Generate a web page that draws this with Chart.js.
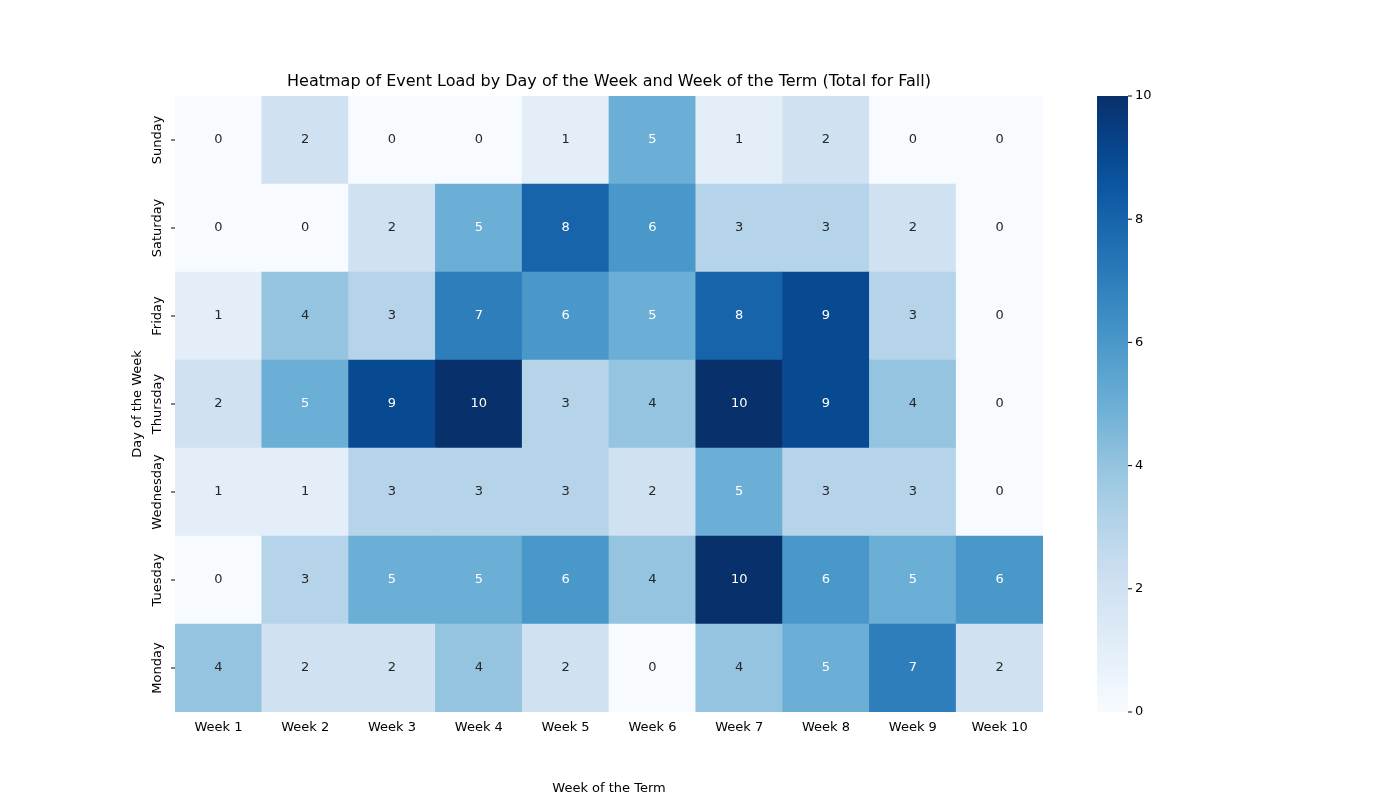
<!DOCTYPE html>
<html><head><meta charset="utf-8">
<script src="https://cdn.jsdelivr.net/npm/chart.js@4"></script>
<style>body{margin:0;background:#fff}#w{width:1400px;height:800px}</style>
</head><body><div id="w"><canvas id="c"></canvas></div>
<script>
const weeks=["Week 1","Week 2","Week 3","Week 4","Week 5","Week 6","Week 7","Week 8","Week 9","Week 10"];
const days=["Monday","Tuesday","Wednesday","Thursday","Friday","Saturday","Sunday"]; // bottom to top
const monday=[4,2,2,4,2,0,4,5,7,2];
const tuesday=[0,3,5,5,6,4,10,6,5,6];
const wednesday=[1,1,3,3,3,2,5,3,3,0];
const thursday=[2,5,9,10,3,4,10,9,4,0];
const friday=[1,4,3,7,6,5,8,9,3,0];
const saturday=[0,0,2,5,8,6,3,3,2,0];
const sunday=[0,2,0,0,1,5,1,2,0,0];
const values=[monday,tuesday,wednesday,thursday,friday,saturday,sunday];
const cbTicks=[0,2,4,6,8,10];
const VMAX=10;
const stops=[[247,251,255],[222,235,247],[198,219,239],[158,202,225],[107,174,214],[66,146,198],[33,113,181],[8,81,156],[8,48,107]];
function blues(t){t=Math.max(0,Math.min(1,t));const p=t*8,i=Math.min(7,Math.floor(p)),f=p-i;const a=stops[i],b=stops[i+1];
return `rgb(${a.map((v,k)=>Math.round(v+(b[k]-v)*f)).join(',')})`;}
const FONT="'DejaVu Sans', sans-serif";
const datasets=values.map((row,i)=>({label:days[i],data:row.map(()=>1),raw:row,backgroundColor:row.map(v=>blues(v/VMAX)),borderWidth:0,barPercentage:1,categoryPercentage:1}));
const plug={id:'p',afterDraw(ch){const c=ch.ctx,a=ch.chartArea,y=ch.scales.y;
c.save();c.font=`13px ${FONT}`;c.textAlign='center';c.textBaseline='middle';
ch.data.datasets.forEach((ds,di)=>{ch.getDatasetMeta(di).data.forEach((bar,j)=>{const v=ds.raw[j];c.fillStyle=v>=5?'#fff':'#262626';c.fillText(String(v),bar.x,(bar.y+bar.base)/2);});});
// y labels rotated
c.fillStyle='#000';
days.forEach((d,i)=>{const py=y.getPixelForValue(i+0.5);c.save();c.translate(158,py);c.rotate(-Math.PI/2);c.fillText(d,0,0);c.restore();
c.strokeStyle='#000';c.beginPath();c.moveTo(a.left,py);c.lineTo(a.left-4,py);c.stroke();});
c.save();c.translate(138,404);c.rotate(-Math.PI/2);c.fillText('Day of the Week',0,0);c.restore();
c.font=`16px ${FONT}`;c.fillText('Heatmap of Event Load by Day of the Week and Week of the Term (Total for Fall)',(a.left+a.right)/2,82);
// colorbar
const x0=1097,w=31,t=a.top,b=a.bottom;const g=c.createLinearGradient(0,b,0,t);
for(let k=0;k<=20;k++)g.addColorStop(k/20,blues(k/20));c.fillStyle=g;c.fillRect(x0,t,w,b-t);
c.font=`13px ${FONT}`;c.textAlign='left';c.fillStyle='#000';c.strokeStyle='#000';
cbTicks.forEach(v=>{const py=b-(b-t)*v/VMAX;c.beginPath();c.moveTo(x0+w,py);c.lineTo(x0+w+4,py);c.stroke();c.fillText(String(v),x0+w+7,py);});
c.restore();}};
new Chart(document.getElementById('c'),{type:'bar',data:{labels:weeks,datasets},plugins:[plug],
options:{responsive:true,maintainAspectRatio:false,animation:false,layout:{padding:{top:96,right:357,left:0,bottom:0}},
plugins:{legend:{display:false},tooltip:{enabled:false}},
scales:{x:{stacked:true,grid:{display:false,drawTicks:false},border:{display:false},ticks:{color:'#000',font:{family:FONT,size:13},maxRotation:0,padding:8},
title:{display:true,text:'Week of the Term',color:'#000',font:{family:FONT,size:13},padding:{top:4}},afterFit(s){s.height=88;}},
y:{stacked:true,min:0,max:7,grid:{display:false},border:{display:false},ticks:{display:false},afterFit(s){s.width=175;}}}}});
</script></body></html>
